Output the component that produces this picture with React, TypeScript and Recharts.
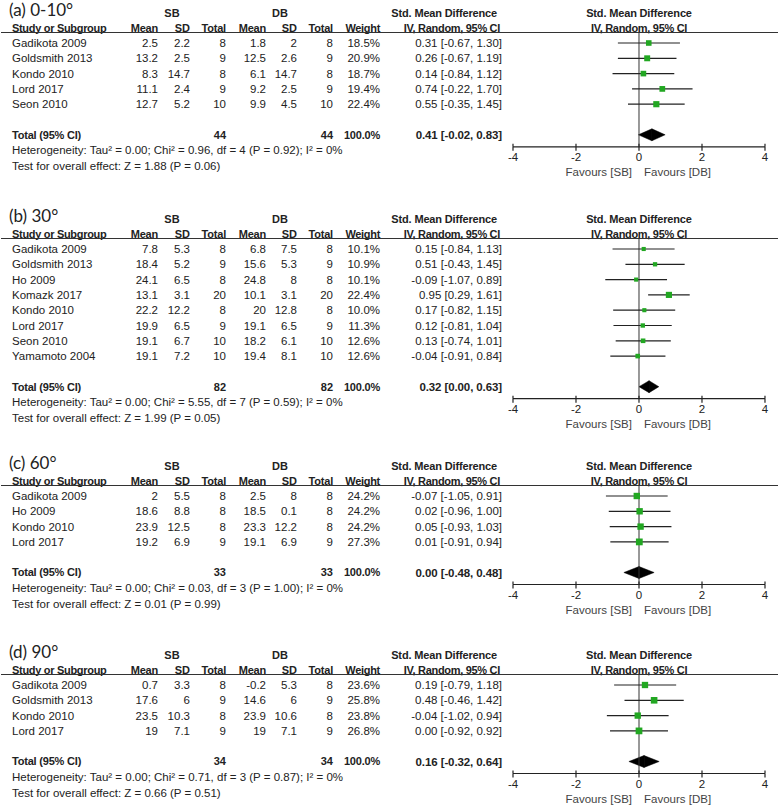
import React from 'react';
import { ScatterChart, Scatter, XAxis, YAxis, ReferenceLine, ReferenceArea, Customized } from 'recharts';

// ---------- Panel (a) 0-10° ----------
const titleA = '(a) 0-10°';
const studiesA = ['Gadikota 2009', 'Goldsmith 2013', 'Kondo 2010', 'Lord 2017', 'Seon 2010'];
const sbMeanA = [2.5, 13.2, 8.3, 11.1, 12.7];
const sbSdA = [2.2, 2.5, 14.7, 2.4, 5.2];
const sbNA = [8, 9, 8, 9, 10];
const dbMeanA = [1.8, 12.5, 6.1, 9.2, 9.9];
const dbSdA = [2, 2.6, 14.7, 2.5, 4.5];
const dbNA = [8, 9, 8, 9, 10];
const weightA = [18.5, 20.9, 18.7, 19.4, 22.4];
const smdA = [0.31, 0.26, 0.14, 0.74, 0.55];
const loA = [-0.67, -0.67, -0.84, -0.22, -0.35];
const hiA = [1.3, 1.19, 1.12, 1.7, 1.45];
const totalA = { sbN: 44, dbN: 44, est: 0.41, lo: -0.02, hi: 0.83, chi: 0.96, df: 4, p: 0.92, z: 1.88, zp: 0.06 };

// ---------- Panel (b) 30° ----------
const titleB = '(b) 30°';
const studiesB = ['Gadikota 2009', 'Goldsmith 2013', 'Ho 2009', 'Komazk 2017', 'Kondo 2010', 'Lord 2017', 'Seon 2010', 'Yamamoto 2004'];
const sbMeanB = [7.8, 18.4, 24.1, 13.1, 22.2, 19.9, 19.1, 19.1];
const sbSdB = [5.3, 5.2, 6.5, 3.1, 12.2, 6.5, 6.7, 7.2];
const sbNB = [8, 9, 8, 20, 8, 9, 10, 10];
const dbMeanB = [6.8, 15.6, 24.8, 10.1, 20, 19.1, 18.2, 19.4];
const dbSdB = [7.5, 5.3, 8, 3.1, 12.8, 6.5, 6.1, 8.1];
const dbNB = [8, 9, 8, 20, 8, 9, 10, 10];
const weightB = [10.1, 10.9, 10.1, 22.4, 10.0, 11.3, 12.6, 12.6];
const smdB = [0.15, 0.51, -0.09, 0.95, 0.17, 0.12, 0.13, -0.04];
const loB = [-0.84, -0.43, -1.07, 0.29, -0.82, -0.81, -0.74, -0.91];
const hiB = [1.13, 1.45, 0.89, 1.61, 1.15, 1.04, 1.01, 0.84];
const totalB = { sbN: 82, dbN: 82, est: 0.32, lo: 0.0, hi: 0.63, chi: 5.55, df: 7, p: 0.59, z: 1.99, zp: 0.05 };

// ---------- Panel (c) 60° ----------
const titleC = '(c) 60°';
const studiesC = ['Gadikota 2009', 'Ho 2009', 'Kondo 2010', 'Lord 2017'];
const sbMeanC = [2, 18.6, 23.9, 19.2];
const sbSdC = [5.5, 8.8, 12.5, 6.9];
const sbNC = [8, 8, 8, 9];
const dbMeanC = [2.5, 18.5, 23.3, 19.1];
const dbSdC = [8, 0.1, 12.2, 6.9];
const dbNC = [8, 8, 8, 9];
const weightC = [24.2, 24.2, 24.2, 27.3];
const smdC = [-0.07, 0.02, 0.05, 0.01];
const loC = [-1.05, -0.96, -0.93, -0.91];
const hiC = [0.91, 1.0, 1.03, 0.94];
const totalC = { sbN: 33, dbN: 33, est: 0.0, lo: -0.48, hi: 0.48, chi: 0.03, df: 3, p: 1.0, z: 0.01, zp: 0.99 };

// ---------- Panel (d) 90° ----------
const titleD = '(d) 90°';
const studiesD = ['Gadikota 2009', 'Goldsmith 2013', 'Kondo 2010', 'Lord 2017'];
const sbMeanD = [0.7, 17.6, 23.5, 19];
const sbSdD = [3.3, 6, 10.3, 7.1];
const sbND = [8, 9, 8, 9];
const dbMeanD = [-0.2, 14.6, 23.9, 19];
const dbSdD = [5.3, 6, 10.6, 7.1];
const dbND = [8, 9, 8, 9];
const weightD = [23.6, 25.8, 23.8, 26.8];
const smdD = [0.19, 0.48, -0.04, 0.0];
const loD = [-0.79, -0.46, -1.02, -0.92];
const hiD = [1.18, 1.42, 0.94, 0.92];
const totalD = { sbN: 34, dbN: 34, est: 0.16, lo: -0.32, hi: 0.64, chi: 0.71, df: 3, p: 0.87, z: 0.66, zp: 0.51 };

const xTicks = [-4, -2, 0, 2, 4];

// ---------- layout ----------
const W = 778;
const ROW_H = 15.3;
const TOP = 32;
const PLOT_LEFT = 513;
const PLOT_RIGHT = 765;
const ZERO_X = 639;
const GREEN = '#22a722';
const INK = '#222';
const FONT = '"Liberation Sans", Arial, sans-serif';
const FS = 11.5;

const COL = { study: 12, sbMean: 158, sbSd: 190, sbN: 226, dbMean: 266, dbSd: 297, dbN: 333, weight: 380, ci: 502 };

const f2 = (v: number) => v.toFixed(2);
const ciStr = (e: number, l: number, h: number) => `${f2(e)} [${f2(l)}, ${f2(h)}]`;

function buildRows(studies: string[], sbMean: number[], sbSd: number[], sbN: number[], dbMean: number[], dbSd: number[], dbN: number[], weight: number[], smd: number[], lo: number[], hi: number[]) {
  return studies.map((s, i) => ({
    study: s, sbMean: sbMean[i], sbSd: sbSd[i], sbN: sbN[i], dbMean: dbMean[i], dbSd: dbSd[i], dbN: dbN[i],
    w: weight[i], smd: smd[i], lo: lo[i], hi: hi[i],
  }));
}

function T(props: any) {
  const { x, y, anchor = 'end', bold = false, size = FS, family = FONT, ls, fill = INK, children } = props;
  return (
    <text x={x} y={y} dy="0.35em" textAnchor={anchor} fontFamily={family} fontSize={size}
      fontWeight={bold ? 'bold' : 'normal'} fill={fill} letterSpacing={ls}>{children}</text>
  );
}

function StudyTextShape(p: any) {
  const r = p.payload;
  const y = p.cy;
  return (
    <g>
      <T x={COL.study} y={y} anchor="start">{r.study}</T>
      <T x={COL.sbMean} y={y}>{r.sbMean}</T>
      <T x={COL.sbSd} y={y}>{r.sbSd}</T>
      <T x={COL.sbN} y={y}>{r.sbN}</T>
      <T x={COL.dbMean} y={y}>{r.dbMean}</T>
      <T x={COL.dbSd} y={y}>{r.dbSd}</T>
      <T x={COL.dbN} y={y}>{r.dbN}</T>
      <T x={COL.weight} y={y}>{`${r.w.toFixed(1)}%`}</T>
      <T x={COL.ci} y={y}>{ciStr(r.smd, r.lo, r.hi)}</T>
    </g>
  );
}

function TotalTextShape(p: any) {
  const r = p.payload;
  const y = p.cy;
  return (
    <g>
      <T x={COL.study} y={y} anchor="start" bold size={11} ls={-0.2}>Total (95% CI)</T>
      <T x={COL.sbN} y={y} bold size={11}>{r.sbN}</T>
      <T x={COL.dbN} y={y} bold size={11}>{r.dbN}</T>
      <T x={COL.weight} y={y} bold size={11} ls={-0.2}>100.0%</T>
      <T x={COL.ci} y={y} bold size={11.5} ls={-0.1}>{ciStr(r.est, r.lo, r.hi)}</T>
      <T x={COL.study} y={y + 15.5} anchor="start">{`Heterogeneity: Tau² = 0.00; Chi² = ${f2(r.chi)}, df = ${r.df} (P = ${f2(r.p)}); I² = 0%`}</T>
      <T x={COL.study} y={y + 31} anchor="start">{`Test for overall effect: Z = ${f2(r.z)} (P = ${f2(r.zp)})`}</T>
    </g>
  );
}

function SquareShape(p: any) {
  const s = Math.sqrt(p.payload.w) * 1.3;
  return <rect x={p.cx - s / 2} y={p.cy - s / 2} width={s} height={s} fill={GREEN} />;
}

function leftTri(p: any) {
  const x = Math.min(p.x, p.x + p.width);
  const w = Math.abs(p.width);
  const y = Math.min(p.y, p.y + p.height);
  const h = Math.abs(p.height);
  return <polygon points={`${x},${y + h / 2} ${x + w},${y} ${x + w},${y + h}`} fill="#000" stroke="#000" strokeWidth={0.5} />;
}
function rightTri(p: any) {
  const x = Math.min(p.x, p.x + p.width);
  const w = Math.abs(p.width);
  const y = Math.min(p.y, p.y + p.height);
  const h = Math.abs(p.height);
  return <polygon points={`${x},${y} ${x + w},${y + h / 2} ${x},${y + h}`} fill="#000" stroke="#000" strokeWidth={0.5} />;
}

function Panel(props: any) {
  const { title, rows, total, bottom } = props;
  const n = rows.length;
  const yMin = -11 / ROW_H;
  const yMax = n + 1 + 12 / ROW_H;
  const plotH = ROW_H * (yMax - yMin);
  const height = TOP + plotH + bottom;
  const axisH = 30;
  const textData = rows.map((r: any, i: number) => ({ ...r, x: 0, y: i }));
  const markData = rows.map((r: any, i: number) => ({ ...r, x: r.smd, y: i }));
  const totalData = [{ ...total, x: 0, y: n + 1 }];
  const ty = n + 1;
  const axisY = TOP + plotH;

  const Header = () => (
    <g>
      <T x={9} y={10} anchor="start" family="Lato, 'Open Sans', sans-serif" size={17}>{title}</T>
      <T x={172} y={13} anchor="middle" bold size={11}>SB</T>
      <T x={280} y={13} anchor="middle" bold size={11}>DB</T>
      <T x={497} y={13} anchor="end" bold size={11} ls={-0.15}>Std. Mean Difference</T>
      <T x={ZERO_X} y={13} anchor="middle" bold size={11} ls={-0.15}>Std. Mean Difference</T>
      <T x={COL.study} y={28} anchor="start" bold size={11} ls={-0.3}>Study or Subgroup</T>
      <T x={COL.sbMean} y={28} bold size={11} ls={-0.2}>Mean</T>
      <T x={COL.sbSd} y={28} bold size={11}>SD</T>
      <T x={COL.sbN} y={28} bold size={11} ls={-0.2}>Total</T>
      <T x={COL.dbMean} y={28} bold size={11} ls={-0.2}>Mean</T>
      <T x={COL.dbSd} y={28} bold size={11}>SD</T>
      <T x={COL.dbN} y={28} bold size={11} ls={-0.2}>Total</T>
      <T x={COL.weight} y={28} bold size={11} ls={-0.3}>Weight</T>
      <T x={500} y={28} bold size={11} ls={-0.3}>IV, Random, 95% CI</T>
      <T x={ZERO_X} y={28} anchor="middle" bold size={11} ls={-0.3}>IV, Random, 95% CI</T>
      <line x1={1} x2={W} y1={TOP + 0.5} y2={TOP + 0.5} stroke="#333" strokeWidth={1.2} />
      <T x={ZERO_X - 7} y={axisY + 25} fill="#444">Favours [SB]</T>
      <T x={ZERO_X + 5} y={axisY + 25} anchor="start" fill="#444">Favours [DB]</T>
    </g>
  );

  return (
    <ScatterChart width={W} height={height}
      margin={{ top: TOP, left: PLOT_LEFT, right: W - PLOT_RIGHT, bottom: bottom - axisH }}>
      <XAxis type="number" dataKey="x" domain={[-4, 4]} ticks={xTicks} height={axisH}
        axisLine={{ stroke: INK, strokeWidth: 1.2 }} tickLine={{ stroke: INK, strokeWidth: 1.2 }} tickSize={4}
        tick={{ fill: INK, fontSize: FS, fontFamily: FONT }} interval={0} />
      <YAxis type="number" dataKey="y" domain={[yMin, yMax]} reversed hide />
      <Customized component={Header} />
      <ReferenceLine x={0} stroke="#333" strokeWidth={1} />
      {xTicks.map((t) => (
        <ReferenceLine key={`tk${t}`} segment={[{ x: t, y: yMax - 3 / ROW_H }, { x: t, y: yMax }]} stroke={INK} strokeWidth={1.2} />
      ))}
      {rows.map((r: any, i: number) => (
        <ReferenceLine key={`ci${i}`} segment={[{ x: r.lo, y: i }, { x: r.hi, y: i }]} stroke={INK} strokeWidth={1.2} />
      ))}
      <ReferenceArea x1={total.lo} x2={total.est} y1={ty - 0.39} y2={ty + 0.39} shape={leftTri} />
      <ReferenceArea x1={total.est} x2={total.hi} y1={ty - 0.39} y2={ty + 0.39} shape={rightTri} />
      <Scatter data={textData} shape={StudyTextShape} isAnimationActive={false} />
      <Scatter data={totalData} shape={TotalTextShape} isAnimationActive={false} />
      <Scatter data={markData} shape={SquareShape} isAnimationActive={false} />
    </ScatterChart>
  );
}

const rowsA = buildRows(studiesA, sbMeanA, sbSdA, sbNA, dbMeanA, dbSdA, dbNA, weightA, smdA, loA, hiA);
const rowsB = buildRows(studiesB, sbMeanB, sbSdB, sbNB, dbMeanB, dbSdB, dbNB, weightB, smdB, loB, hiB);
const rowsC = buildRows(studiesC, sbMeanC, sbSdC, sbNC, dbMeanC, dbSdC, dbNC, weightC, smdC, loC, hiC);
const rowsD = buildRows(studiesD, sbMeanD, sbSdD, sbND, dbMeanD, dbSdD, dbND, weightD, smdD, loD, hiD);

export default function App() {
  return (
    <div style={{ position: 'absolute', left: 0, top: 0, width: W, height: 805, background: '#fff', overflow: 'hidden' }}>
      <Panel title={titleA} rows={rowsA} total={totalA} bottom={59} />
      <Panel title={titleB} rows={rowsB} total={totalB} bottom={55} />
      <Panel title={titleC} rows={rowsC} total={totalC} bottom={57.5} />
      <Panel title={titleD} rows={rowsD} total={totalD} bottom={31} />
    </div>
  );
}
